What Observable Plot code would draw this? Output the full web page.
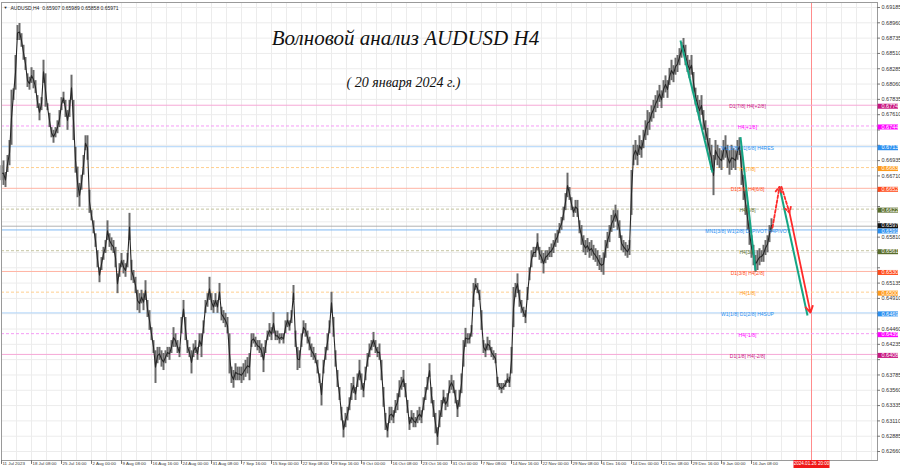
<!DOCTYPE html>
<html><head><meta charset="utf-8">
<script src="https://cdn.jsdelivr.net/npm/d3@7"></script>
<script src="https://cdn.jsdelivr.net/npm/@observablehq/plot@0.6"></script>
<style>body{margin:0;background:#fff;overflow:hidden}#chart svg{display:block}</style>
</head><body><div id="chart"></div>
<script>
// H4 price samples (every ~2 bars): highs and lows
const hi = [.6686,.6693,.6676,.6701,.6723,.6797,.6799,.6848,.6892,.6895,.6880,.6863,.6845,.6821,.6816,.6830,.6826,.6811,.6789,.6777,.6786,.6841,.6821,.6777,.6763,.6742,.6738,.6742,.6752,.6767,.6786,.6794,.6782,.6767,.6782,.6819,.6782,.6713,.6684,.6660,.6672,.6701,.6730,.6730,.6650,.6620,.6605,.6586,.6561,.6536,.6551,.6566,.6576,.6605,.6586,.6580,.6576,.6566,.6527,.6542,.6557,.6547,.6542,.6557,.6616,.6547,.6532,.6522,.6503,.6498,.6503,.6498,.6517,.6488,.6473,.6448,.6429,.6414,.6419,.6419,.6414,.6410,.6414,.6419,.6419,.6429,.6448,.6439,.6429,.6419,.6463,.6488,.6463,.6429,.6419,.6414,.6424,.6429,.6419,.6439,.6439,.6458,.6488,.6498,.6522,.6498,.6488,.6498,.6488,.6513,.6478,.6473,.6469,.6463,.6439,.6390,.6385,.6395,.6390,.6390,.6390,.6395,.6400,.6404,.6410,.6439,.6439,.6434,.6429,.6429,.6424,.6419,.6429,.6443,.6454,.6448,.6470,.6443,.6443,.6439,.6439,.6439,.6458,.6470,.6458,.6473,.6510,.6443,.6419,.6414,.6439,.6458,.6454,.6443,.6434,.6424,.6419,.6410,.6400,.6380,.6366,.6400,.6419,.6439,.6458,.6500,.6463,.6414,.6385,.6360,.6331,.6311,.6322,.6331,.6345,.6366,.6375,.6360,.6380,.6400,.6380,.6366,.6390,.6410,.6424,.6429,.6441,.6429,.6419,.6424,.6400,.6360,.6322,.6307,.6331,.6331,.6326,.6341,.6351,.6370,.6375,.6385,.6366,.6341,.6316,.6326,.6322,.6316,.6326,.6331,.6326,.6345,.6360,.6375,.6395,.6360,.6341,.6322,.6301,.6326,.6341,.6356,.6345,.6351,.6370,.6378,.6370,.6356,.6341,.6356,.6380,.6429,.6447,.6439,.6439,.6451,.6513,.6520,.6513,.6503,.6473,.6429,.6424,.6434,.6429,.6419,.6414,.6410,.6375,.6366,.6366,.6366,.6370,.6380,.6375,.6419,.6507,.6513,.6527,.6503,.6488,.6478,.6473,.6507,.6536,.6561,.6566,.6566,.6586,.6566,.6561,.6557,.6561,.6561,.6566,.6571,.6576,.6586,.6591,.6601,.6610,.6625,.6645,.6675,.6654,.6639,.6625,.6635,.6635,.6605,
.6598,.6583,.6576,.6579,.6573,.6576,.6569,.6564,.6561,.6554,.6550,.6558,.6576,.6588,.6598,.6613,.6620,.6628,.6620,.6605,.6583,.6576,.6573,.6569,.6576,.6679,.6716,.6723,.6716,.6730,.6723,.6738,.6752,.6767,.6764,.6774,.6782,.6789,.6796,.6804,.6796,.6811,.6818,.6811,.6829,.6841,.6833,.6844,.6848,.6858,.6867,.6873,.6863,.6848,.6841,.6848,.6823,.6800,.6789,.6782,.6789,.6767,.6752,.6741,.6726,.6716,.6701,.6723,.6716,.6711,.6708,.6723,.6730,.6716,.6708,.6716,.6711,.6708,.6723,.6727,.6708,.6672,.6650,.6628,.6605,.6583,.6569,.6554,.6561,.6564,.6561,.6569,.6576,.6583,.6598,.6608];
const lo = [.6664,.6657,.6654,.6676,.6686,.6716,.6782,.6797,.6870,.6870,.6860,.6841,.6826,.6801,.6797,.6807,.6799,.6792,.6770,.6752,.6767,.6807,.6772,.6767,.6742,.6727,.6719,.6727,.6733,.6742,.6767,.6777,.6757,.6738,.6757,.6782,.6723,.6675,.6639,.6625,.6650,.6672,.6708,.6694,.6616,.6605,.6586,.6566,.6536,.6514,.6532,.6547,.6557,.6576,.6566,.6561,.6557,.6536,.6498,.6522,.6536,.6527,.6522,.6536,.6576,.6517,.6513,.6498,.6473,.6469,.6483,.6473,.6488,.6463,.6444,.6429,.6410,.6366,.6395,.6400,.6390,.6385,.6395,.6404,.6400,.6410,.6419,.6419,.6410,.6404,.6439,.6463,.6429,.6410,.6404,.6380,.6404,.6410,.6400,.6419,.6404,.6439,.6469,.6478,.6488,.6473,.6469,.6478,.6469,.6488,.6458,.6454,.6448,.6439,.6380,.6366,.6359,.6370,.6370,.6370,.6366,.6370,.6375,.6380,.6370,.6419,.6424,.6419,.6414,.6410,.6404,.6382,.6410,.6429,.6434,.6429,.6439,.6429,.6429,.6424,.6429,.6424,.6439,.6448,.6443,.6454,.6488,.6419,.6385,.6388,.6419,.6439,.6434,.6424,.6414,.6404,.6400,.6395,.6380,.6366,.6333,.6380,.6400,.6414,.6439,.6469,.6434,.6390,.6360,.6341,.6311,.6286,.6301,.6311,.6326,.6341,.6351,.6341,.6360,.6370,.6356,.6345,.6370,.6390,.6404,.6414,.6419,.6410,.6404,.6400,.6370,.6331,.6297,.6286,.6307,.6311,.6307,.6322,.6326,.6345,.6356,.6360,.6345,.6322,.6297,.6307,.6301,.6301,.6307,.6311,.6307,.6326,.6341,.6356,.6375,.6336,.6316,.6292,.6275,.6301,.6316,.6336,.6326,.6331,.6351,.6356,.6351,.6336,.6316,.6331,.6351,.6390,.6419,.6424,.6424,.6434,.6478,.6503,.6498,.6488,.6444,.6410,.6404,.6414,.6414,.6404,.6400,.6395,.6360,.6356,.6351,.6356,.6360,.6366,.6360,.6380,.6448,.6492,.6498,.6478,.6469,.6463,.6454,.6488,.6517,.6536,.6551,.6551,.6561,.6547,.6542,.6527,.6542,.6547,.6551,.6551,.6557,.6566,.6572,.6586,.6591,.6605,.6620,.6639,.6635,.6620,.6610,.6616,.6610,.6586,
.6569,.6558,.6554,.6558,.6550,.6553,.6547,.6544,.6538,.6532,.6529,.6525,.6550,.6564,.6573,.6588,.6594,.6603,.6591,.6579,.6561,.6558,.6553,.6550,.6554,.6613,.6686,.6694,.6686,.6701,.6697,.6711,.6723,.6730,.6738,.6750,.6755,.6764,.6770,.6779,.6770,.6785,.6793,.6785,.6804,.6811,.6808,.6819,.6823,.6833,.6844,.6852,.6833,.6823,.6814,.6819,.6794,.6775,.6764,.6752,.6760,.6738,.6723,.6708,.6694,.6679,.6642,.6694,.6686,.6682,.6679,.6694,.6697,.6682,.6672,.6679,.6682,.6679,.6694,.6701,.6657,.6635,.6613,.6591,.6569,.6550,.6539,.6529,.6532,.6539,.6544,.6544,.6554,.6558,.6573,.6588];

const priceTicks = [0.62660,0.62885,0.63110,0.63335,0.63560,0.63785,0.64010,0.64235,0.64460,0.64685,0.64910,0.65135,0.65360,0.65585,0.65810,0.66035,0.66260,0.66485,0.66710,0.66935,0.67160,0.67385,0.67610,0.67835,0.68060,0.68285,0.68510,0.68735,0.68960,0.69185];
const dateLabels = ["11 Jul 2023","18 Jul 08:00","25 Jul 16:00","2 Aug 00:00","9 Aug 08:00","16 Aug 16:00","24 Aug 00:00","31 Aug 08:00","7 Sep 16:00","15 Sep 00:00","22 Sep 08:00","29 Sep 16:00","9 Oct 00:00","16 Oct 08:00","23 Oct 16:00","31 Oct 00:00","7 Nov 08:00","14 Nov 16:00","22 Nov 00:00","29 Nov 08:00","6 Dec 16:00","14 Dec 00:00","21 Dec 08:00","29 Dec 16:00","9 Jan 00:00","16 Jan 08:00"];

const levelPrices = [0.67749,0.67444,0.67139,0.66833,0.66528,0.66222,0.65916,0.65611,0.65306,0.65002,0.64697,0.64392,0.64087];
const levelNames = ["D1[7/8] H4[+2/8]","H4[+1/8]","W1[3/8] D1[6/8] H4RES","H4[7/8]","D1[5/8] H4[6/8]","H4[5/8]","MN1[3/8] W1[2/8] D1PIVOT H4PIVOT","H4[3/8]","D1[3/8] H4[2/8]","H4[1/8]","W1[1/8] D1[2/8] H4SUP","H4[-1/8]","D1[1/8] H4[-2/8]"];
const levelGroups = ["pink","magenta","blue","orange","red","olive","pivot","olive","red","orange","blue","magenta","pink"];

const lastClose = 0.65971;
const header = "AUDUSD,H4  0.65907 0.65989 0.65858 0.65971";
const nowLabel = "2024.01.26 20:00";
const nowSample = 405;

// wave markup (sample index, price)
const greenLines = [
  {k1:339.5,p1:0.6870,k2:355.5,p2:0.6676},
  {k1:369.5,p1:0.6728,k2:377,p2:0.6532},
  {k1:389,p1:0.6655,k2:403,p2:0.6466}
];
const redDashed = [
  {k1:385.5,p1:0.6595,k2:389,p2:0.6655},
  {k1:390,p1:0.6655,k2:394,p2:0.6617}
];
const redSolid = [{k1:394,p1:0.6617,k2:404.5,p2:0.6470}];

const styles = {
  pink:{line:"#f6a8d6",box:"#c8157f",dash:false},
  magenta:{line:"#f59cf5",box:"#ff00ff",dash:true},
  blue:{line:"#aed4fa",box:"#2b8ff0",dash:false},
  pivot:{line:"#7fb9f3",box:"#2b8ff0",dash:false},
  orange:{line:"#ffcf8f",box:"#ff9a1a",dash:true},
  red:{line:"#ffb3a3",box:"#ff4a1a",dash:false},
  olive:{line:"#c4c4a0",box:"#5a6e2c",dash:true}
};

const samples = hi.map((h,k)=>({k, hi:h, lo:lo[k], mid:(h+lo[k])/2}));
const levels = levelPrices.map((p,i)=>({p, name:levelNames[i], ...styles[levelGroups[i]]}));
// hide axis labels that would sit under a coloured price box
const freeTicks = priceTicks.filter(t =>
  levelPrices.every(b => !((t > b && t - b < 0.00055) || (t <= b && b - t < 0.0009))) &&
  !((t > lastClose && t - lastClose < 0.00075) || (t <= lastClose && lastClose - t < 0.0007)));
const gridX = d3.range(0, 438, 7.5);
const small = "'Liberation Sans Narrow','Arial Narrow','Liberation Sans',sans-serif";

const chart = Plot.plot({
  width:900, height:468,
  marginLeft:1, marginRight:23, marginTop:2, marginBottom:8,
  x:{domain:[0,438], axis:null},
  y:{domain:[0.62528,0.692585], axis:null},
  color:{type:"identity"},
  style:{background:"#fff", fontFamily:small},
  marks:[
    Plot.ruleY(priceTicks, {stroke:"#ececec", strokeWidth:1}),
    Plot.ruleX(gridX, {stroke:"#ececec", strokeWidth:1}),
    Plot.ruleX([nowSample], {stroke:"#ff8c8c", strokeWidth:1}),
    Plot.ruleY(levels.filter(d=>!d.dash), {y:"p", stroke:"line", strokeWidth:1}),
    Plot.ruleY(levels.filter(d=>d.dash), {y:"p", stroke:"line", strokeWidth:1, strokeDasharray:"3,2"}),
    Plot.ruleY([lastClose], {stroke:"#a0a0a0", strokeWidth:0.8}),
    Plot.ruleX(samples, {x:"k", y1:"lo", y2:"hi", stroke:"#6a6a6a", strokeWidth:2}),
    Plot.line(samples, {x:"k", y:"mid", stroke:"#262626", strokeWidth:1.1}),
    Plot.text(levels, {x:373, y:"p", text:"name", fill:"box", fontSize:5, dy:1.5}),
    Plot.link(greenLines, {x1:"k1", y1:"p1", x2:"k2", y2:"p2", stroke:"#15a584", strokeWidth:2}),
    Plot.arrow(redDashed, {x1:"k1", y1:"p1", x2:"k2", y2:"p2", stroke:"#ff2a2a", strokeWidth:1.8, strokeDasharray:"3,2", headLength:5, bend:0}),
    Plot.arrow(redSolid, {x1:"k1", y1:"p1", x2:"k2", y2:"p2", stroke:"#ff2a2a", strokeWidth:1.8, headLength:6, bend:0}),
    Plot.frame({stroke:"#9a9a9a"}),
    // right price axis
    Plot.ruleY(priceTicks, {x1:438, x2:439.5, stroke:"#777"}),
    Plot.text(freeTicks, {y:d=>d, text:d=>d.toFixed(5), frameAnchor:"right", dx:4, textAnchor:"start", fontSize:5.5, fill:"#333"}),
    Plot.ruleY(levels, {y:"p", x1:438.3, x2:448.5, stroke:"box", strokeWidth:5, dy:1}),
    Plot.text(levels, {y:"p", text:d=>d.p.toFixed(5), frameAnchor:"right", dx:4, dy:1, textAnchor:"start", fontSize:5.5, fill:"#fff"}),
    Plot.ruleY([lastClose], {x1:438.3, x2:448.5, stroke:"#111", strokeWidth:5, dy:-0.5}),
    Plot.text([lastClose], {y:d=>d, text:d=>d.toFixed(5), frameAnchor:"right", dx:4, dy:-0.5, textAnchor:"start", fontSize:5.5, fill:"#fff"}),
    // bottom time axis
    Plot.ruleX(dateLabels, {x:(d,i)=>i*15, y1:0.62528, y2:0.62470, stroke:"#777"}),
    Plot.text(dateLabels, {x:(d,i)=>i*15, text:d=>d, frameAnchor:"bottom", dx:1, dy:4.5, textAnchor:"start", fontSize:4.4, fill:"#333"}),
    Plot.ruleX([nowSample], {y1:0.62528, y2:0.62410, stroke:"#f01818", strokeWidth:36}),
    Plot.text([nowLabel], {x:nowSample, frameAnchor:"bottom", dy:4.5, text:d=>d, fontSize:4.6, fill:"#fff"}),
    // header and titles
    Plot.text([header], {frameAnchor:"top-left", dx:9, dy:4, text:d=>d, fontSize:5, fill:"#222"}),
    Plot.text(["▼"], {frameAnchor:"top-left", dx:2, dy:4, text:d=>d, fontSize:4, fill:"#222"}),
    Plot.text(["Волновой анализ AUDUSD H4"], {frameAnchor:"top", dx:-34, dy:28, text:d=>d, fontSize:21, fontStyle:"italic", fontFamily:"'Liberation Serif','DejaVu Serif',serif", fill:"#111"}),
    Plot.text(["( 20 января 2024 г.)"], {frameAnchor:"top", dx:-36, dy:75, text:d=>d, fontSize:14, fontStyle:"italic", fontFamily:"'Liberation Serif','DejaVu Serif',serif", fill:"#111"})
  ]
});
document.getElementById("chart").append(chart);
</script>
</body></html>
